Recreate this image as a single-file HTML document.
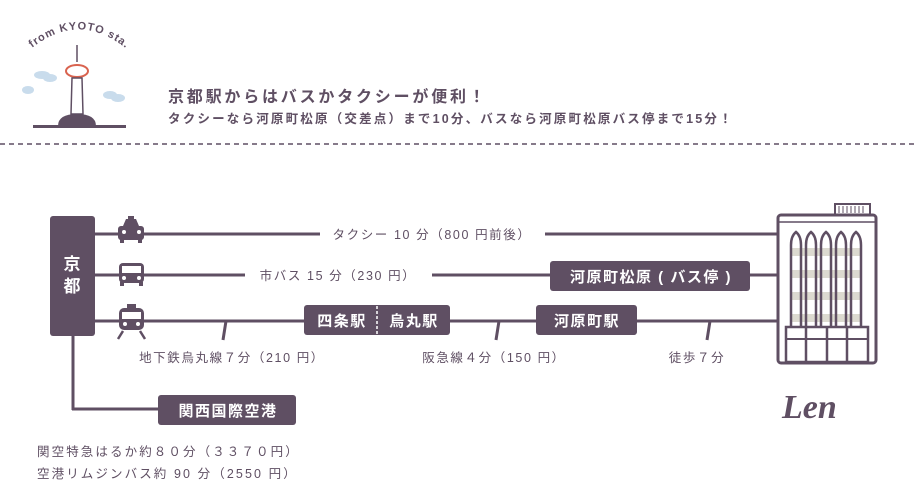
<!DOCTYPE html>
<html><head><meta charset="utf-8"><style>
body{margin:0;width:914px;height:494px;background:#fff;overflow:hidden;font-family:"Liberation Sans","Noto Sans CJK JP",sans-serif;color:#5f4f63}
svg{position:absolute;left:0;top:0}
</style></head><body>
<svg width="914" height="494" viewBox="0 0 914 494" font-family="Liberation Sans, Noto Sans CJK JP, sans-serif">
<path id="arc" d="M32,48 Q80,10 128,50" fill="none"/>
<text font-size="11" font-weight="bold" fill="#5f4f63" letter-spacing="1"><textPath href="#arc">from KYOTO sta.</textPath></text>
<g fill="#c9dcec"><ellipse cx="42" cy="75" rx="8" ry="4"/><ellipse cx="50" cy="78" rx="7" ry="4"/><ellipse cx="28" cy="90" rx="6" ry="4"/><ellipse cx="110" cy="95" rx="7" ry="4"/><ellipse cx="118" cy="98" rx="7" ry="4"/></g>
<line x1="77" y1="45" x2="77" y2="62" stroke="#5f4f63" stroke-width="1.5"/>
<ellipse cx="77" cy="71" rx="11" ry="6" fill="#fff" stroke="#d9634f" stroke-width="2"/>
<path d="M72,78 L71,114 L83,114 L82,78 Z" fill="#fff" stroke="#5f4f63" stroke-width="1.5"/>
<path d="M58,126 Q58,114 77,114 Q96,114 96,126 Z" fill="#5f4f63"/>
<rect x="33" y="125" width="93" height="3" fill="#5f4f63"/>
<text x="168" y="102" font-size="16" font-weight="bold" fill="#5f4f63" letter-spacing="2.8">京都駅からはバスかタクシーが便利！</text>
<text x="168" y="123" font-size="12.5" font-weight="bold" fill="#5f4f63" letter-spacing="2.2">タクシーなら河原町松原（交差点）まで10分、バスなら河原町松原バス停まで15分！</text>
<line x1="0" y1="144" x2="914" y2="144" stroke="#5f4f63" stroke-width="1.5" stroke-dasharray="5,4"/>

<g stroke="#5f4f63" stroke-width="3" fill="none">
<line x1="95" y1="234" x2="320" y2="234"/><line x1="545" y1="234" x2="778" y2="234"/>
<line x1="95" y1="275" x2="245" y2="275"/><line x1="432" y1="275" x2="778" y2="275"/>
<line x1="95" y1="321" x2="778" y2="321"/>
<line x1="73" y1="336" x2="73" y2="410"/><line x1="72" y1="409" x2="160" y2="409"/>
<line x1="226" y1="321" x2="223" y2="340"/><line x1="499" y1="321" x2="496" y2="340"/><line x1="710" y1="321" x2="707" y2="340"/>
</g>
<g fill="#5f4f63">
<rect x="50" y="216" width="45" height="120" rx="3"/>
<rect x="158" y="395" width="138" height="30" rx="3"/>
<rect x="304" y="305" width="146" height="30" rx="3"/>
<rect x="536" y="305" width="101" height="30" rx="3"/>
<rect x="550" y="261" width="200" height="30" rx="3"/>
</g>
<line x1="377" y1="306" x2="377" y2="334" stroke="#fff" stroke-width="1.5" stroke-dasharray="3,2"/>
<g fill="#fff" font-weight="bold" font-size="15" letter-spacing="1.5">
<text x="72" y="270" text-anchor="middle" font-size="17" letter-spacing="0">京</text>
<text x="72" y="292" text-anchor="middle" font-size="17" letter-spacing="0">都</text>
<text x="228" y="416" text-anchor="middle">関西国際空港</text>
<text x="342" y="326" text-anchor="middle">四条駅</text>
<text x="414" y="326" text-anchor="middle">烏丸駅</text>
<text x="587" y="326" text-anchor="middle">河原町駅</text>
<text x="651" y="282" text-anchor="middle">河原町松原 ( バス停 )</text>
</g>
<g fill="#5f4f63">
<rect x="118" y="226" width="26" height="14" rx="3"/><path d="M123,226 L126,219 L136,219 L139,226Z"/><rect x="128" y="216" width="6" height="3"/>
<rect x="120" y="239" width="4" height="4"/><rect x="138" y="239" width="4" height="4"/>
<rect x="119" y="263" width="25" height="20" rx="4"/><rect x="120" y="282" width="4" height="4"/><rect x="139" y="282" width="4" height="4"/>
<rect x="119" y="308" width="25" height="22" rx="5"/><rect x="127" y="304" width="9" height="4"/>
</g>
<rect x="122" y="266" width="19" height="7" fill="#fff"/>
<rect x="122" y="312" width="19" height="7" fill="#fff"/>
<circle cx="124" cy="232" r="2" fill="#fff"/><circle cx="139" cy="232" r="2" fill="#fff"/>
<circle cx="124" cy="278" r="2" fill="#fff"/><circle cx="139" cy="278" r="2" fill="#fff"/>
<circle cx="125" cy="324" r="2" fill="#fff"/><circle cx="138" cy="324" r="2" fill="#fff"/>
<path d="M123,331 L118,339 M140,331 L145,339" stroke="#5f4f63" stroke-width="2.5"/>
<g fill="#5f4f63" font-size="12.5" letter-spacing="1.6">
<text x="432" y="239" text-anchor="middle">タクシー 10 分（800 円前後）</text>
<text x="338" y="280" text-anchor="middle">市バス 15 分（230 円）</text>
<text x="232" y="362" text-anchor="middle">地下鉄烏丸線７分（210 円）</text>
<text x="494" y="362" text-anchor="middle">阪急線４分（150 円）</text>
<text x="697" y="362" text-anchor="middle">徒歩７分</text>
<text x="37" y="456" letter-spacing="2.1">関空特急はるか約８０分（３３７０円）</text>
<text x="37" y="478" letter-spacing="2.1">空港リムジンバス約 90 分（2550 円）</text>
</g>
<g stroke="#5f4f63" stroke-width="3" fill="none">
<rect x="778" y="215" width="98" height="148" rx="3"/>
<line x1="779" y1="222" x2="876" y2="222" stroke-width="1.5"/>
<rect x="835" y="204" width="35" height="11" stroke-width="2"/>
<rect x="786" y="327" width="82" height="35" stroke-width="2.5"/>
<line x1="786" y1="339" x2="868" y2="339" stroke-width="2"/>
<line x1="806" y1="327" x2="806" y2="362" stroke-width="2.5"/><line x1="827" y1="327" x2="827" y2="362" stroke-width="2.5"/><line x1="847" y1="327" x2="847" y2="362" stroke-width="2.5"/>
</g>
<g fill="#dcdad0"><rect x="790" y="248" width="72" height="8"/><rect x="790" y="270" width="72" height="8"/><rect x="790" y="292" width="72" height="8"/><rect x="790" y="314" width="72" height="8"/></g>
<g fill="none" stroke="#5f4f63" stroke-width="2.5">
<path d="M791,327 L791,245 Q791,236 796,232 Q801,236 801,245 L801,327"/>
<path d="M806,327 L806,245 Q806,236 811,232 Q816,236 816,245 L816,327"/>
<path d="M821,327 L821,245 Q821,236 826,232 Q831,236 831,245 L831,327"/>
<path d="M836,327 L836,245 Q836,236 841,232 Q846,236 846,245 L846,327"/>
<path d="M851,327 L851,245 Q851,236 856,232 Q861,236 861,245 L861,327"/>
</g>
<g stroke="#5f4f63" stroke-width="1"><line x1="839" y1="206" x2="839" y2="213"/><line x1="843" y1="206" x2="843" y2="213"/><line x1="847" y1="206" x2="847" y2="213"/><line x1="851" y1="206" x2="851" y2="213"/><line x1="855" y1="206" x2="855" y2="213"/><line x1="859" y1="206" x2="859" y2="213"/><line x1="863" y1="206" x2="863" y2="213"/></g>
<text x="782" y="418" font-size="34" font-style="italic" font-weight="bold" font-family="Liberation Serif, serif" fill="#5f4f63">Len</text>
</svg>
</body></html>
